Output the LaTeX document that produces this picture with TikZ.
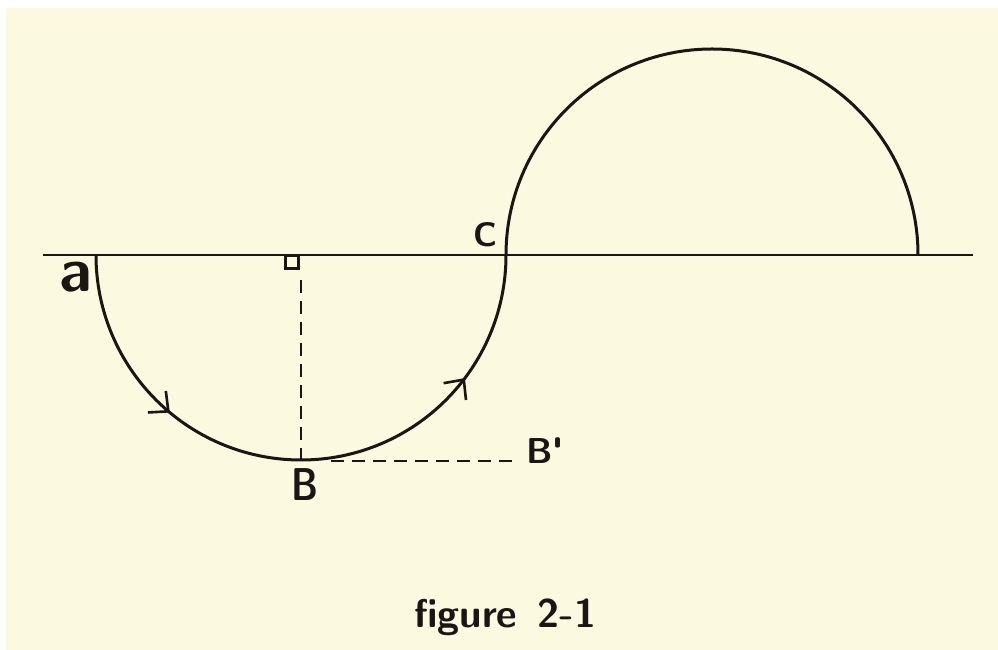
\documentclass[tikz,border=0pt]{standalone}
\usetikzlibrary{arrows.meta,decorations.markings}
\definecolor{paper}{RGB}{251,250,224}
\definecolor{ink}{RGB}{25,22,20}
\tikzset{
  curve/.style={draw=ink, line width=3pt},
  baseline/.style={draw=ink, line width=2.2pt},
  dashline/.style={draw=ink, line width=2pt, dash pattern=on 13pt off 8pt},
  lbl/.style={text=ink, inner sep=0pt}
}
\begin{document}
\begin{tikzpicture}[x=1pt,y=1pt]
\useasboundingbox (0,0) rectangle (998,650);
\fill[white] (0,0) rectangle (998,650);
\fill[paper] (6,0) rectangle (998,642);

\coordinate (L) at (43,395);
\coordinate (R) at (973,395);
\coordinate (a) at (96,395);
\coordinate (C) at (506,395);
\coordinate (B) at (301,190);
\coordinate (dtop) at (301,370);
\coordinate (bstart) at (331,189);
\coordinate (Bp) at (514,189);

% base line
\draw[baseline] (L) -- (R);

% lower semicircle with two direction marks
\draw[curve, postaction={decorate}, decoration={markings,
   mark=at position 0.279 with {\arrow{Straight Barb[length=15pt,width=28pt,line width=2.6pt]}},
   mark=at position 0.795 with {\arrow{Straight Barb[length=15pt,width=28pt,line width=2.6pt]}}}]
  (a) arc[start angle=180, end angle=360, radius=205];

% upper semicircle
\draw[curve] (C) arc[start angle=180, end angle=0, radius=206];

% right-angle square
\draw[ink, line width=3pt] (285.5,381) rectangle (298.5,394);

% dashed lines
\draw[dashline] (dtop) -- (B);
\draw[dashline] (bstart) -- (Bp);

% labels
\node[lbl, font=\sffamily\bfseries\fontsize{62}{62}\selectfont, anchor=east] (la) at (92,373) {a};
\node[lbl, font=\sffamily\bfseries\fontsize{34}{34}\selectfont] (lC) at (485,415) {C};
\node[lbl, font=\sffamily\bfseries\fontsize{46}{46}\selectfont, xscale=0.8] (lB) at (305,165) {B};
\node[lbl, font=\sffamily\bfseries\fontsize{36}{36}\selectfont, anchor=west] (lBp) at (526,199) {B\textquotesingle};
\node[lbl, font=\sffamily\bfseries\fontsize{40}{40}\selectfont, anchor=west] (cap) at (414,33) {figure\hspace{0.5em}2-1};
\end{tikzpicture}
\end{document}
